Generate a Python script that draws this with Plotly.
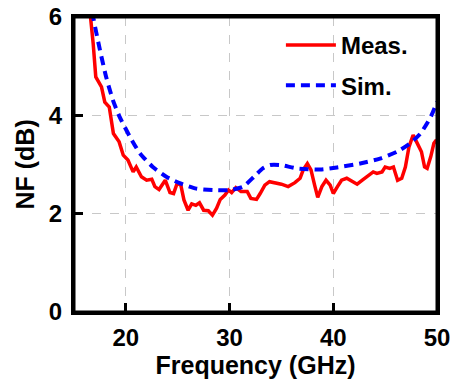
import plotly.graph_objects as go

# Measured noise figure
meas_freq = [16.4, 16.6, 16.85, 17.1, 17.65, 17.97, 18.4, 18.8, 19.35, 19.75, 20.2, 20.7, 21.0, 21.5,
             22.0, 22.5, 22.8, 23.2, 23.8, 24.25, 24.6, 24.95, 25.3, 25.6, 26.0, 26.35, 26.75,
             27.1, 27.5, 27.95, 28.35, 28.75, 29.1, 29.55, 29.9, 30.2, 30.6, 31.1, 31.7, 32.05,
             32.6, 32.95, 33.4, 33.85, 34.4, 35.0, 35.65, 36.3, 36.8, 37.1, 37.5, 37.85, 38.2,
             38.5, 38.9, 39.3, 39.7, 40.0, 40.4, 40.8, 41.3, 41.8, 42.3, 42.8, 43.25, 43.85,
             44.2, 44.7, 45.0, 45.45, 45.8, 46.2, 46.6, 46.95, 47.3, 47.7, 48.1, 48.5, 48.8,
             49.05, 49.4, 49.7, 49.95]
meas_nf = [6.4, 6.0, 5.46, 4.78, 4.58, 4.27, 4.17, 3.63, 3.46, 3.19, 3.09, 2.85, 2.95, 2.75,
           2.68, 2.70, 2.55, 2.49, 2.68, 2.43, 2.41, 2.62, 2.58, 2.28, 2.07, 2.20, 2.17,
           2.22, 2.07, 2.06, 1.97, 2.11, 2.29, 2.38, 2.48, 2.43, 2.53, 2.45, 2.45, 2.31,
           2.29, 2.41, 2.58, 2.65, 2.63, 2.60, 2.55, 2.63, 2.72, 2.89, 3.02, 2.89, 2.58,
           2.33, 2.55, 2.68, 2.58, 2.41, 2.55, 2.68, 2.72, 2.65, 2.60, 2.68, 2.75, 2.85,
           2.82, 2.85, 2.95, 2.92, 2.95, 2.68, 2.72, 2.95, 3.36, 3.60, 3.43, 3.26, 2.95,
           2.92, 3.16, 3.43, 3.50]

# Simulated noise figure
sim_freq = [16.6, 16.85, 17.5, 18.1, 18.75, 19.4, 20.4, 21.35, 22.6, 23.9, 25.2, 26.8, 28.4,
            30.0, 31.3, 32.4, 33.2, 33.9, 34.9, 36.5, 38.75, 40.35, 42.6, 44.5, 46.15,
            47.4, 48.4, 49.4, 50.0]
sim_nf = [6.4, 6.0, 5.33, 4.78, 4.31, 3.97, 3.56, 3.23, 2.95, 2.75, 2.62, 2.51, 2.48,
          2.48, 2.55, 2.76, 2.92, 2.99, 2.99, 2.92, 2.90, 2.94, 3.02, 3.12, 3.26,
          3.43, 3.63, 3.97, 4.27]

x_ticks = [20, 30, 40, 50]
y_ticks = [0, 2, 4, 6]

FONT = "Arial, Liberation Sans, sans-serif"

fig = go.Figure()
fig.add_trace(go.Scatter(x=meas_freq, y=meas_nf, mode="lines", name="Meas.",
                         legendgroup="a",
                         line=dict(color="#ff0000", width=3.5)))
fig.add_trace(go.Scatter(x=sim_freq, y=sim_nf, mode="lines", name="Sim.",
                         legendgroup="b",
                         line=dict(color="#0000ff", width=4, dash="9px,6px", shape="spline",
                                   smoothing=0.6)))

axis_common = dict(
    showline=True, linecolor="black", linewidth=3, mirror=True,
    ticks="inside", ticklen=9, tickwidth=3, tickcolor="black",
    showgrid=True, gridcolor="#c8c8c8", gridwidth=1, griddash="dash",
    zeroline=False, automargin=False, ticklabeloverflow="allow",
    tickfont=dict(family=FONT, size=24, color="black", weight="bold"),
)

fig.update_xaxes(range=[15, 50], tickvals=x_ticks, **axis_common, ticklabelstandoff=2,
                 title=dict(text="Frequency (GHz)", standoff=2,
                            font=dict(family=FONT, size=25, color="black", weight="bold")))
fig.update_yaxes(range=[0, 6], tickvals=y_ticks, **axis_common, ticklabelstandoff=4)

# y-axis title placed as an annotation for precise positioning
fig.add_annotation(text="NF (dB)", textangle=-90, xref="paper", yref="paper",
                   x=-0.135, y=0.5, xanchor="center", yanchor="middle", showarrow=False,
                   font=dict(family=FONT, size=25, color="black", weight="bold"))

# plot frame
fig.add_shape(type="rect", xref="paper", yref="paper", x0=0, x1=1, y0=0, y1=1,
              line=dict(color="black", width=3), layer="above")

fig.update_layout(
    width=450, height=381,
    margin=dict(l=74, r=13, t=17, b=69, autoexpand=False),
    plot_bgcolor="white", paper_bgcolor="white",
    font=dict(family=FONT, color="black", weight="bold"),
    legend=dict(x=0.57, y=0.98, xanchor="left", yanchor="top", itemwidth=50,
                bgcolor="rgba(0,0,0,0)", borderwidth=0, tracegroupgap=6,
                font=dict(family=FONT, size=24, color="black", weight="bold")),
)

fig.write_html("out.html", config={"displayModeBar": False},
               post_script="document.body.style.margin='0';document.body.style.overflow='hidden';")
